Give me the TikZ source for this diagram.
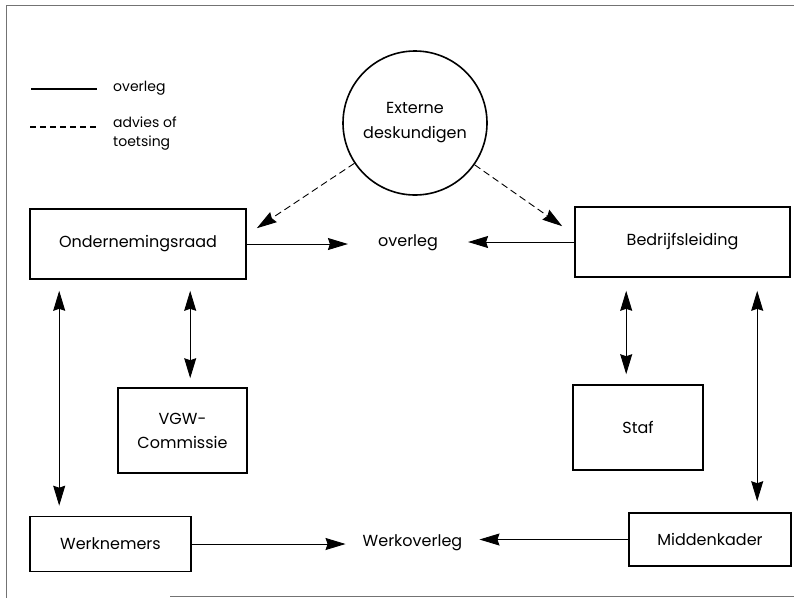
\documentclass[tikz,border=0pt]{standalone}
\usepackage{fontspec}
\setmainfont{Poppins}
\usetikzlibrary{shapes.geometric, arrows.meta, positioning}
\tikzstyle{unit} = [draw, rectangle, line width=1.6pt, align=center, font=\fontsize{16}{24}\selectfont]
\tikzstyle{label} = [align=left, font=\fontsize{14}{19}\selectfont]
\tikzstyle{arrow} = [line width=0.9pt, -{Stealth[length=20pt, width=12pt, inset=2pt]}]
\tikzstyle{twoway} = [line width=0.9pt, {Stealth[length=20pt, width=12pt, inset=2pt]}-{Stealth[length=20pt, width=12pt, inset=2pt]}]
\tikzstyle{advice} = [arrow, dash pattern=on 7pt off 4pt]

\begin{document}
\begin{tikzpicture}[x=1pt, y=-1pt]
    \useasboundingbox (0,0) rectangle (794,598);
    % Frame
    \draw[black!55, line width=1pt] (794,5) -- (6,5) -- (6,598);
    \draw[black!55, line width=1pt] (170,596) -- (794,596);

    % Legend
    \coordinate (solidA) at (31,89);
    \coordinate (solidB) at (97,89);
    \coordinate (dashA) at (30,127);
    \coordinate (dashB) at (97,127);
    \draw[line width=1.4pt] (solidA) -- (solidB);
    \draw[line width=1.4pt, dash pattern=on 6pt off 4pt] (dashA) -- (dashB);
    \node[label, anchor=west, inner sep=0pt] (legSolid) at (113,88) {overleg};
    \node[label, anchor=north west, inner sep=0pt] (legDash) at (113,117) {advies of\\toetsing};

    % Nodes
    \node[draw, circle, line width=1.6pt, minimum size=144pt, align=center,
          font=\fontsize{16}{25}\selectfont] (ext) at (415,123) {Externe\\deskundigen};
    \node[unit, minimum width=216pt, minimum height=70pt] (or) at (138,244) {Ondernemingsraad};
    \node[unit, minimum width=215pt, minimum height=70pt] (bl) at (682.5,242) {Bedrijfsleiding};
    \node[font=\fontsize{16}{24}\selectfont, inner xsep=30pt] (ov) at (408,243) {overleg};
    \node[unit, minimum width=129pt, minimum height=85pt] (vgw) at (182.5,430.5) {VGW-\\Commissie};
    \node[unit, minimum width=130pt, minimum height=85pt] (staf) at (638,427.5) {Staf};
    \node[unit, minimum width=161pt, minimum height=55pt] (wn) at (110.5,544) {Werknemers};
    \node[unit, minimum width=162pt, minimum height=53pt] (mk) at (710,539.5) {Middenkader};
    \node[font=\fontsize{16}{24}\selectfont, inner xsep=17pt] (wo) at (412.5,543) {Werkoverleg};

    % Edges
    \draw[advice] (ext) -- ([xshift=10pt, yshift=-20pt]or.north east);
    \draw[advice] (ext) -- ([xshift=-12pt, yshift=-20pt]bl.north west);
    \draw[arrow] (or.east) -- (or.east -| ov.west);
    \draw[arrow] (bl.west) -- (bl.west -| ov.east);
    \draw[arrow] (wn.east) -- (wn.east -| wo.west);
    \draw[arrow] (mk.west) -- (mk.west -| wo.east);
    \draw[twoway] ([xshift=30pt, yshift=-11pt]or.south west) -- ([xshift=30pt, yshift=10pt]wn.north west);
    \draw[twoway] ([xshift=161pt, yshift=-11pt]or.south west) -- ([xshift=73pt, yshift=9pt]vgw.north west);
    \draw[twoway] ([xshift=52pt, yshift=-13pt]bl.south west) -- ([xshift=54pt, yshift=10pt]staf.north west);
    \draw[twoway] ([xshift=183pt, yshift=-13pt]bl.south west) -- ([xshift=129pt, yshift=11pt]mk.north west);
\end{tikzpicture}
\end{document}
